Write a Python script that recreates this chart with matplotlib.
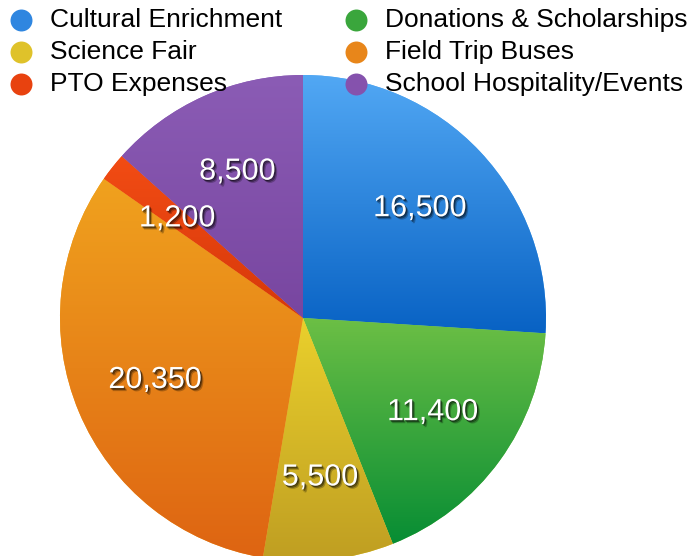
import numpy as np
import matplotlib
matplotlib.use("Agg")
import matplotlib.pyplot as plt
import matplotlib.patheffects as pe
from matplotlib.colors import LinearSegmentedColormap

categories = ["Cultural Enrichment", "Donations & Scholarships", "Science Fair",
              "Field Trip Buses", "PTO Expenses", "School Hospitality/Events"]
values = [16500, 11400, 5500, 20350, 1200, 8500]
top_colors = ["#52a8f4", "#6cbf45", "#ead02c", "#f0a21e", "#f24c14", "#8b5cb5"]
bottom_colors = ["#0862c4", "#078d34", "#bf9e22", "#de6412", "#d6380a", "#7846a0"]
legend_colors = ["#2f86e0", "#3aa63c", "#dfc22a", "#e8861a", "#e8420f", "#8552ad"]

plt.rcParams['font.family'] = ['Liberation Sans', 'DejaVu Sans']

W, H = 691, 556
fig = plt.figure(figsize=(W / 100, H / 100), dpi=100)
ax = fig.add_axes([0, 0, 1, 1])

total = sum(values)
cx, cy, R = 303, H - 318, 243

wedges, texts, autotexts = ax.pie(
    values, center=(cx, cy), radius=R, startangle=90, counterclock=False,
    autopct=lambda p: f"{p * total / 100:,.0f}", pctdistance=0.66,
    frame=True, wedgeprops=dict(linewidth=0),
    textprops=dict(color="white", fontsize=22, zorder=5))

for w, c0, c1 in zip(wedges, bottom_colors, top_colors):
    verts = w.get_patch_transform().transform(w.get_path().vertices)
    xmin, ymin = verts.min(axis=0)
    xmax, ymax = verts.max(axis=0)
    cmap = LinearSegmentedColormap.from_list("g", [c0, c1])
    w.set_facecolor(c1)
    im = ax.imshow(np.linspace(0, 1, 256).reshape(-1, 1), cmap=cmap,
                   extent=[xmin, xmax, ymin, ymax], origin="lower",
                   aspect="auto", zorder=2, interpolation="bilinear")
    im.set_clip_path(w)

for t in autotexts:
    t.set_path_effects([
        pe.SimplePatchShadow(offset=(2.0, -2.2), shadow_rgbFace="black", alpha=0.25),
        pe.SimplePatchShadow(offset=(1.2, -1.4), shadow_rgbFace="black", alpha=0.4),
        pe.SimplePatchShadow(offset=(0.6, -0.7), shadow_rgbFace="black", alpha=0.4),
        pe.Normal()])

# legend
col_x = [21, 356]
row_y = [20, 52, 84]
for i, (name, col) in enumerate(zip(categories, legend_colors)):
    x = col_x[i % 2]
    y = H - row_y[i // 2]
    ax.scatter([x], [y], s=250, color=col, zorder=6, linewidths=0)
    ax.text(x + 29, y, name, fontsize=19, color="black", va="center",
            ha="left", zorder=6)

ax.set_xlim(0, W)
ax.set_ylim(0, H)
ax.set_aspect("equal")
ax.axis("off")
fig.savefig("out.png", dpi=100)
